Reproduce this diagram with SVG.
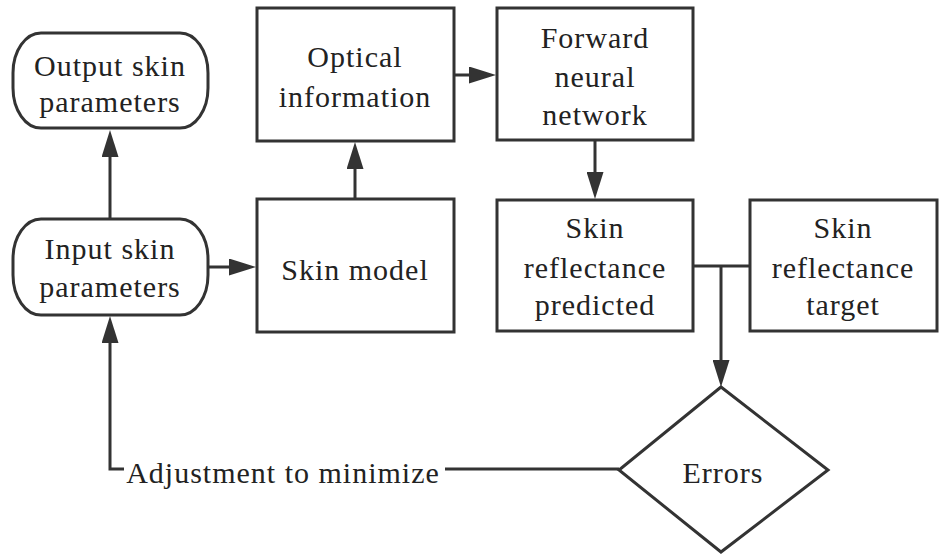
<svg xmlns="http://www.w3.org/2000/svg" width="939" height="556" viewBox="0 0 939 556">
<style>
.box{fill:#fff;stroke:#333;stroke-width:3}
.t{font-family:"Liberation Serif","Times New Roman",serif;font-size:30px;letter-spacing:1px;fill:#222;text-anchor:middle}
.c{fill:none;stroke:#333;stroke-width:3}
</style>
<defs>
<marker id="ah" markerUnits="userSpaceOnUse" markerWidth="27" markerHeight="17" refX="20" refY="8.5" orient="auto">
<path d="M0,0 L27,8.5 L0,17 z" fill="#333"/>
</marker>
</defs>
<rect width="939" height="556" fill="#fff"/>
<g id="connectors">
<line class="c" x1="110" y1="218" x2="110" y2="137" marker-end="url(#ah)"/>
<line class="c" x1="208" y1="267" x2="249" y2="267" marker-end="url(#ah)"/>
<line class="c" x1="355" y1="199" x2="355" y2="149" marker-end="url(#ah)"/>
<line class="c" x1="454" y1="75" x2="489" y2="75" marker-end="url(#ah)"/>
<line class="c" x1="595" y1="141" x2="595" y2="192" marker-end="url(#ah)"/>
<line class="c" x1="693" y1="266" x2="750" y2="266"/>
<line class="c" x1="721" y1="266" x2="721" y2="380" marker-end="url(#ah)"/>
<line class="c" x1="619" y1="469" x2="445" y2="469"/>
<polyline class="c" points="124,469 110,469 110,323" marker-end="url(#ah)"/>
<text class="t" x="283" y="483">Adjustment to minimize</text>
</g>
<g id="output-skin-parameters">
<rect class="box" x="13" y="33" width="195" height="95" rx="28" ry="40"/>
<text class="t" x="110" y="76">Output skin</text>
<text class="t" x="110" y="112">parameters</text>
</g>
<g id="input-skin-parameters">
<rect class="box" x="13" y="219" width="195" height="96" rx="28" ry="40"/>
<text class="t" x="110" y="259">Input skin</text>
<text class="t" x="110" y="297">parameters</text>
</g>
<g id="optical-information">
<rect class="box" x="257" y="8" width="197" height="133"/>
<text class="t" x="355" y="67">Optical</text>
<text class="t" x="355" y="107">information</text>
</g>
<g id="skin-model">
<rect class="box" x="257" y="199" width="197" height="133"/>
<text class="t" x="355" y="280">Skin model</text>
</g>
<g id="forward-neural-network">
<rect class="box" x="497" y="8" width="196" height="132"/>
<text class="t" x="595" y="48">Forward</text>
<text class="t" x="595" y="87">neural</text>
<text class="t" x="595" y="125">network</text>
</g>
<g id="skin-reflectance-predicted">
<rect class="box" x="497" y="200" width="196" height="131"/>
<text class="t" x="595" y="238">Skin</text>
<text class="t" x="595" y="278">reflectance</text>
<text class="t" x="595" y="315">predicted</text>
</g>
<g id="skin-reflectance-target">
<rect class="box" x="750" y="200" width="187" height="131"/>
<text class="t" x="843" y="238">Skin</text>
<text class="t" x="843" y="278">reflectance</text>
<text class="t" x="843" y="315">target</text>
</g>
<g id="errors">
<polygon class="box" points="721,387 828,470 721,552 619,470"/>
<text class="t" x="723" y="483">Errors</text>
</g>
</svg>
